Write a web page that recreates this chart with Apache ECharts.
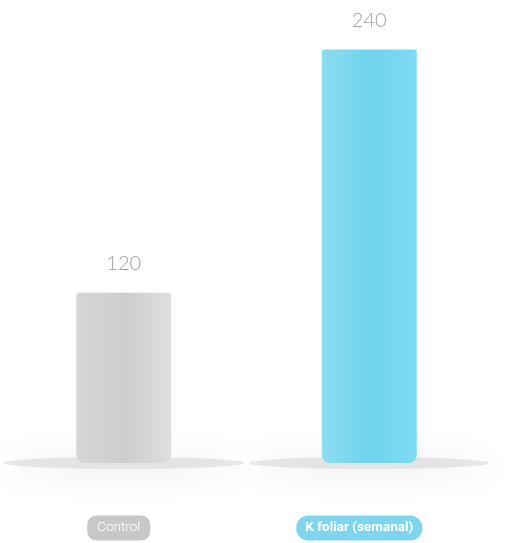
<!DOCTYPE html>
<html>
<head>
<meta charset="utf-8">
<script src="https://cdn.jsdelivr.net/npm/echarts@6/dist/echarts.min.js"></script>
<style>html,body{margin:0;padding:0;background:#fff}#c{width:521px;height:543px}</style>
</head>
<body>
<div id="c"></div>
<script>
var categories = ['Control', 'K foliar (semanal)'];
var values = [120, 240];
var axisMin = 36;
var axisMax = 260;

var gradGray = new echarts.graphic.LinearGradient(0, 0, 1, 0, [
  {offset: 0, color: '#d6d6d6'}, {offset: 0.5, color: '#cdcdcd'}, {offset: 1, color: '#dedfe1'}
]);
var gradCyan = new echarts.graphic.LinearGradient(0, 0, 1, 0, [
  {offset: 0, color: '#8edcf0'}, {offset: 0.5, color: '#6fd3ee'}, {offset: 1, color: '#7ddbf3'}
]);
var colors = [gradGray, gradCyan];
var pillColors = ['#c8c8c8', '#7dd6ee'];

var chart = echarts.init(document.getElementById('c'));
chart.setOption({
  animation: false,
  grid: {left: 1, right: 29, top: 9, bottom: 80},
  xAxis: {
    type: 'category', data: categories,
    axisLine: {show: false}, axisTick: {show: false},
    axisLabel: {
      margin: 58,
      formatter: function (v, i) { return i === 0 ? '{a|' + v + '}{s1|}' : '{b|' + v + '}{s2|}'; },
      rich: {
        a: {color: '#fff', backgroundColor: pillColors[0], borderRadius: 9, padding: [5, 10, 6, 10],
            fontSize: 13.5, fontFamily: 'Roboto', fontWeight: 300, lineHeight: 14},
        b: {color: '#fff', backgroundColor: pillColors[1], borderRadius: 12, padding: [5, 9, 6, 9],
            fontSize: 13.5, fontWeight: 'bold', fontFamily: 'Roboto', lineHeight: 14},
        s1: {width: 10},
        s2: {width: 20}
      }
    }
  },
  yAxis: {type: 'value', min: axisMin, max: axisMax, show: false, splitLine: {show: false}},
  series: [
    {
      type: 'scatter', z: 1, silent: true,
      symbol: 'circle', symbolSize: [240, 12],
      data: values.map(function () { return axisMin; }),
      itemStyle: {color: 'rgba(175,175,175,0.35)', shadowBlur: 30, shadowColor: 'rgba(120,120,120,0.7)', shadowOffsetY: 3}
    },
    {
      type: 'bar', z: 3, barWidth: 95,
      data: values.map(function (v, i) {
        return {value: v, itemStyle: {color: colors[i]}};
      }),
      itemStyle: {borderRadius: [3, 3, 8, 8]},
      label: {show: true, position: 'top', distance: 19, fontSize: 20, color: '#a0a0a0',
              fontFamily: 'Lato', fontWeight: 300}
    }
  ]
});
</script>
</body>
</html>
